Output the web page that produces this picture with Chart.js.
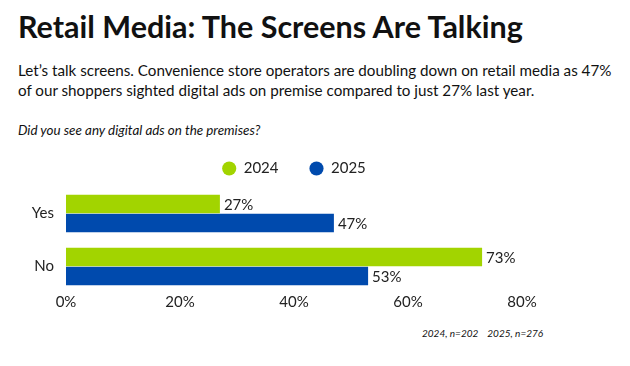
<!DOCTYPE html>
<html>
<head>
<meta charset="utf-8">
<script src="https://cdn.jsdelivr.net/npm/chart.js@4"></script>
<style>
  html, body { margin: 0; padding: 0; background: #fff; }
  body { width: 630px; height: 366px; position: relative; overflow: hidden; font-family: Lato, sans-serif; color: #111; }
  .title { position: absolute; left: 18px; top: 8px; font-size: 30.5px; font-weight: 700; white-space: nowrap; }
  .sub { position: absolute; left: 18px; top: 60px; font-size: 15.2px; line-height: 20px; width: 610px; }
  .question { position: absolute; left: 18px; top: 122px; font-size: 13.4px; font-style: italic; }
  .note { position: absolute; left: 422px; top: 327px; font-size: 10px; font-style: italic; }
  .note span + span { margin-left: 9px; }
  #wrap { position: absolute; left: 0; top: 130px; width: 630px; height: 184px; }
</style>
</head>
<body>
<div class="title">Retail Media: The Screens Are Talking</div>
<div class="sub">Let’s talk screens. Convenience store operators are doubling down on retail media as 47%<br>of our shoppers sighted digital ads on premise compared to just 27% last year.</div>
<div class="question">Did you see any digital ads on the premises?</div>
<div id="wrap"><canvas id="chart"></canvas></div>
<div class="note"><span>2024, n=202</span><span>2025, n=276</span></div>

<script>
const categories = ['Yes', 'No']
const series2024 = [27, 73]
const series2025 = [47, 53]
const xTicks = [0, 20, 40, 60, 80]

const green = '#a2d400'
const blue = '#004aad'

//squeeze the legend so the bars start right under it
const legendHeight = {
  id: 'legendHeight',
  beforeInit(chart) {
    const fit = chart.legend.fit
    chart.legend.fit = function () {
      fit.call(this)
      this.height = 57
    }
  }
}

//percent labels at the end of every bar
const barLabels = {
  id: 'barLabels',
  afterDatasetsDraw(chart) {
    const ctx = chart.ctx
    ctx.save()
    ctx.font = '15px Lato'
    ctx.fillStyle = '#222'
    ctx.textAlign = 'left'
    ctx.textBaseline = 'middle'
    chart.data.datasets.forEach((ds, i) => {
      chart.getDatasetMeta(i).data.forEach((bar, j) => {
        ctx.fillText(ds.data[j] + '%', bar.x + 4, bar.y + 1)
      })
    })
    ctx.restore()
  }
}

new Chart(document.getElementById('chart'), {
  type: 'bar',
  data: {
    labels: categories,
    datasets: [
      { label: '2024', data: series2024, backgroundColor: green },
      { label: '2025', data: series2025, backgroundColor: blue }
    ]
  },
  options: {
    responsive: true,
    maintainAspectRatio: false,
    animation: false,
    indexAxis: 'y',
    categoryPercentage: 0.72,
    barPercentage: 0.97,
    layout: { padding: { left: 10, right: 108, top: 0, bottom: 0 } },
    plugins: {
      legend: {
        position: 'top',
        fullSize: false,
        labels: {
          usePointStyle: true,
          pointStyle: 'circle',
          boxWidth: 14,
          boxHeight: 10,
          padding: 31,
          color: '#222',
          font: { family: 'Lato', size: 15 }
        }
      },
      tooltip: { enabled: false }
    },
    scales: {
      x: {
        min: 0,
        max: 80,
        afterBuildTicks: axis => { axis.ticks = xTicks.map(v => ({ value: v })) },
        grid: { display: false, drawTicks: false },
        border: { display: false },
        ticks: {
          padding: 0,
          color: '#222',
          font: { family: 'Lato', size: 15 },
          callback: v => v + '%'
        }
      },
      y: {
        afterFit: axis => { axis.width = 56 },
        grid: { display: false, drawTicks: false },
        border: { display: false },
        ticks: {
          padding: 12,
          color: '#222',
          font: { family: 'Lato', size: 15 }
        }
      }
    }
  },
  plugins: [legendHeight, barLabels]
})
</script>
</body>
</html>
